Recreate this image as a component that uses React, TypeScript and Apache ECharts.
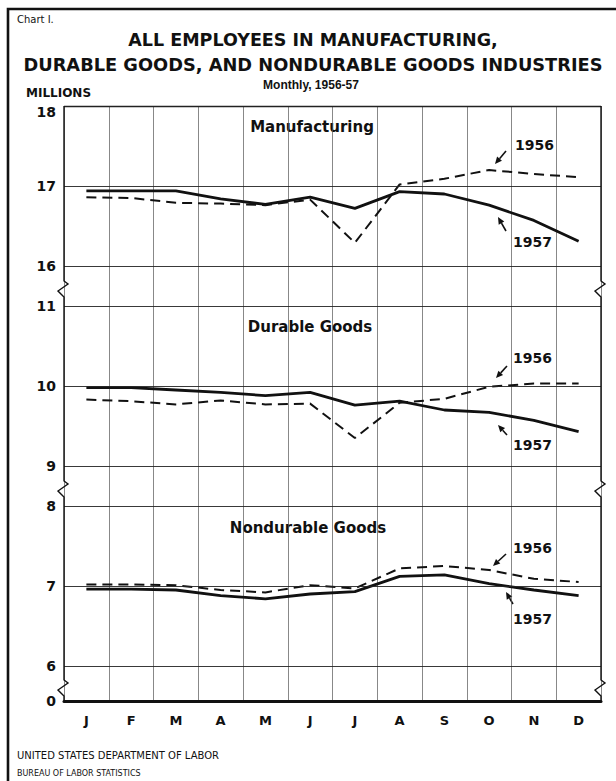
import React, { useEffect, useRef } from "react";
import * as echarts from "echarts";

const months = ["J", "F", "M", "A", "M", "J", "J", "A", "S", "O", "N", "D"];
const mfg1957 = [16.94, 16.94, 16.94, 16.84, 16.77, 16.86, 16.72, 16.93, 16.9, 16.76, 16.57, 16.31];
const mfg1956 = [16.86, 16.85, 16.79, 16.78, 16.76, 16.83, 16.29, 17.02, 17.09, 17.2, 17.15, 17.11];
const dur1957 = [9.98, 9.98, 9.95, 9.92, 9.88, 9.92, 9.76, 9.81, 9.7, 9.67, 9.57, 9.43];
const dur1956 = [9.83, 9.81, 9.77, 9.82, 9.77, 9.78, 9.35, 9.79, 9.84, 9.99, 10.03, 10.03];
const nd1957 = [6.96, 6.96, 6.95, 6.88, 6.84, 6.9, 6.93, 7.12, 7.14, 7.03, 6.95, 6.88];
const nd1956 = [7.02, 7.02, 7.01, 6.95, 6.92, 7.01, 6.97, 7.22, 7.25, 7.2, 7.09, 7.05];
const mfgTicks = [16, 17, 18];
const durTicks = [9, 10, 11];
const ndTicks = [6, 7, 8];
const zeroTicks = [0];

const FONT = "DejaVu Sans";
const INK = "#111";

function arrow(x1: number, y1: number, x2: number, y2: number) {
  const ang = Math.atan2(y2 - y1, x2 - x1);
  const hl = 7, hw = 3.2;
  const bx = x2 - hl * Math.cos(ang), by = y2 - hl * Math.sin(ang);
  const px = -Math.sin(ang) * hw, py = Math.cos(ang) * hw;
  return {
    type: "group",
    children: [
      { type: "line", shape: { x1, y1, x2: bx, y2: by }, style: { stroke: INK, lineWidth: 1.6 } },
      {
        type: "polygon",
        shape: { points: [[x2, y2], [bx + px, by + py], [bx - px, by - py]] },
        style: { fill: INK },
      },
    ],
  };
}

function txt(text: string, x: number, y: number, size: number, weight: string, align = "left", family = FONT) {
  return {
    type: "text",
    x,
    y,
    style: { text, fill: INK, font: `${weight} ${size}px "${family}"`, textAlign: align, textVerticalAlign: "middle" },
  };
}

export default function App() {
  const ref = useRef<HTMLDivElement>(null);
  useEffect(() => {
    const chart = echarts.init(ref.current!, null, { renderer: "svg" });
    const L = 64, R = 601;
    const grids = [
      { top: 106, height: 180 },
      { top: 286, height: 200 },
      { top: 486, height: 200 },
      { top: 686, height: 15 },
    ];
    const ranges = [
      [15.75, 18, mfgTicks],
      [8.75, 11.25, durTicks],
      [5.75, 8.25, ndTicks],
      [0, 0.75, zeroTicks],
    ] as any[];
    const xAxis = grids.map((g, i) => ({
      type: "category",
      gridIndex: i,
      data: months,
      boundaryGap: true,
      axisTick: { show: false },
      axisLine: { show: i === 3, lineStyle: { color: INK, width: 3 } },
      axisLabel: {
        show: i === 3,
        margin: 13,
        color: INK,
        fontFamily: FONT,
        fontWeight: "bold",
        fontSize: 13,
      },
      splitLine: { show: true, lineStyle: { color: "#555", width: 0.7 } },
    }));
    const yAxis = ranges.map((r, i) => ({
      type: "value",
      gridIndex: i,
      min: r[0],
      max: r[1],
      axisLine: { show: false },
      axisTick: { show: false },
      splitLine: { show: false },
      axisLabel: {
        customValues: r[2],
        margin: 8,
        color: INK,
        fontFamily: FONT,
        fontWeight: "bold",
        fontSize: 14,
        formatter: (v: number) => (Math.round(v) === 18 ? "{low|18}" : String(Math.round(v))),
        rich: {
          low: { padding: [11, 0, 0, 0], color: INK, fontFamily: FONT, fontWeight: "bold", fontSize: 14 },
        },
      },
    }));
    const gridLines = (vals: number[], topVal: number | null) => ({
      silent: true,
      symbol: ["none", "none"],
      label: { show: false },
      data: vals.map((v) => ({
        yAxis: v,
        lineStyle: { color: "#222", width: v === topVal ? 1.4 : 0.9, type: "solid" },
      })),
    });
    const line = (data: number[], idx: number, solid: boolean, ml?: any) => ({
      type: "line",
      xAxisIndex: idx,
      yAxisIndex: idx,
      data,
      symbol: "none",
      smooth: false,
      z: solid ? 4 : 3,
      lineStyle: solid ? { color: INK, width: 2.8 } : { color: INK, width: 2, type: [10, 6] },
      markLine: ml,
    });
    const series = [
      line(mfg1957, 0, true, gridLines(mfgTicks, 18)),
      line(mfg1956, 0, false),
      line(dur1957, 1, true, gridLines(durTicks, null)),
      line(dur1956, 1, false),
      line(nd1957, 2, true, gridLines(ndTicks, null)),
      line(nd1956, 2, false),
    ];
    const zig = (x: number, y: number) => [
      [x, y - 6],
      [x + 4, y - 3],
      [x - 6, y + 4],
      [x, y + 10],
    ];
    const border = (x: number) => ({
      type: "polyline",
      shape: {
        points: [
          [x, 106],
          ...zig(x, 287),
          ...zig(x, 487),
          ...zig(x, 686),
          [x, 701.5],
        ],
      },
      style: { stroke: INK, lineWidth: 1.4, fill: "none" },
      z: 10,
    });
    const graphic = [
      { type: "polyline", shape: { points: [[8, 781], [8, 9], [616, 9]] }, style: { stroke: INK, lineWidth: 2.6, fill: "none" } },
      border(L),
      border(R),
      txt("Chart I.", 17, 19, 10, "normal"),
      txt("ALL EMPLOYEES IN MANUFACTURING,", 313, 40, 17.5, "bold", "center"),
      txt("DURABLE GOODS, AND NONDURABLE GOODS INDUSTRIES", 313, 64, 17.8, "bold", "center"),
      txt("Monthly, 1956-57", 311, 85, 12, "bold", "center", "Liberation Sans"),
      txt("MILLIONS", 26, 93, 12, "bold"),
      txt("Manufacturing", 312, 127, 15, "bold", "center"),
      txt("Durable Goods", 310, 327, 15, "bold", "center"),
      txt("Nondurable Goods", 308, 528, 15, "bold", "center"),
      txt("1956", 515, 145, 14, "bold"),
      txt("1957", 513, 242, 14, "bold"),
      txt("1956", 513, 358, 14, "bold"),
      txt("1957", 513, 445, 14, "bold"),
      txt("1956", 513, 548, 14, "bold"),
      txt("1957", 513, 619, 14, "bold"),
      arrow(506, 151, 495, 164),
      arrow(506, 231, 498, 217),
      arrow(507, 366, 496, 378),
      arrow(507, 435, 498, 425),
      arrow(506, 554, 493, 566),
      arrow(513, 604, 506, 592),
      txt("UNITED STATES DEPARTMENT OF LABOR", 17, 755, 10, "normal"),
      txt("BUREAU OF LABOR STATISTICS", 17, 773, 8, "normal"),
    ];
    chart.setOption({
      animation: false,
      backgroundColor: "#fff",
      grid: grids.map((g) => ({ left: L, right: 616 - R, top: g.top, height: g.height, containLabel: false })),
      xAxis,
      yAxis,
      series,
      graphic,
    });
    return () => chart.dispose();
  }, []);
  return <div ref={ref} style={{ position: "absolute", left: 0, top: 0, width: 616, height: 781 }} />;
}
